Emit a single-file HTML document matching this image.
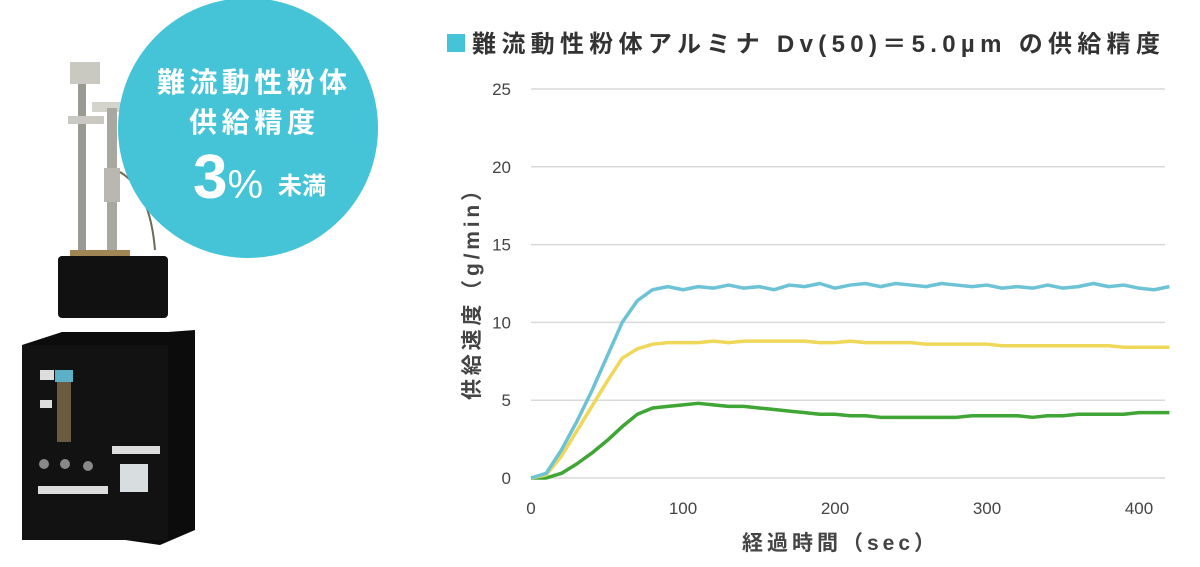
<!DOCTYPE html>
<html><head><meta charset="utf-8"><style>
html,body{margin:0;padding:0;background:#fff;width:1200px;height:567px;overflow:hidden}
svg text{font-family:"Liberation Sans","Noto Sans CJK JP",sans-serif}
</style></head><body>
<svg width="1200" height="567" xmlns="http://www.w3.org/2000/svg">
<g>
  <rect x="78" y="62" width="8" height="200" fill="#9a9a94"/>
  <rect x="70" y="62" width="30" height="22" fill="#c9c9c2"/>
  <rect x="68" y="116" width="36" height="8" fill="#c9c9c2"/>
  <rect x="92" y="102" width="42" height="10" fill="#d4d4cc"/>
  <rect x="107" y="108" width="10" height="150" fill="#a8a8a0"/>
  <rect x="104" y="168" width="16" height="34" fill="#b8b8b0"/>
  <path d="M120 172 Q150 190 155 250" stroke="#6a6a55" stroke-width="2" fill="none"/>
  <rect x="70" y="250" width="60" height="12" fill="#a08555"/>
  <rect x="58" y="256" width="110" height="62" rx="4" fill="#111"/>
  <polygon points="22,345 62,332 168,332 195,330 195,530 160,545 22,525" fill="#0c0c0c"/>
  <rect x="22" y="345" width="146" height="195" fill="#121212"/>
  <rect x="40" y="370" width="14" height="10" fill="#ddd"/>
  <rect x="55" y="370" width="18" height="12" fill="#5cb0c8"/>
  <rect x="57" y="382" width="14" height="60" fill="#6a5a40"/>
  <rect x="40" y="400" width="12" height="8" fill="#ddd"/>
  <rect x="112" y="446" width="48" height="8" fill="#ddd"/>
  <rect x="120" y="464" width="28" height="28" fill="#d8dde0"/>
  <rect x="38" y="486" width="70" height="8" fill="#ddd"/>
  <circle cx="44" cy="464" r="5" fill="#888"/><circle cx="65" cy="464" r="5" fill="#888"/><circle cx="88" cy="466" r="5" fill="#888"/>
</g>
<circle cx="248" cy="128" r="130" fill="#45c3d7"/>
<g fill="#fff" font-weight="bold" text-anchor="middle">
  <text x="252" y="92" font-size="28" textLength="190" lengthAdjust="spacing">難流動性粉体</text>
  <text x="252" y="132" font-size="28" textLength="126" lengthAdjust="spacing">供給精度</text>
  <text x="228" y="198" font-size="62">3<tspan font-size="40" font-weight="normal">%</tspan></text>
  <text x="302" y="194" font-size="24">未満</text>
</g>
<rect x="447" y="34" width="18" height="18" fill="#45c3d7"/>
<text x="472" y="52" font-size="24" font-weight="bold" fill="#333" textLength="688" lengthAdjust="spacing">難流動性粉体アルミナ Dv(50)＝5.0µm の供給精度</text>
<g id="grid"></g><g id="ticks" font-size="17" fill="#444"></g><g id="series"></g>
<text x="742" y="550" font-size="21" font-weight="bold" fill="#444" textLength="193" lengthAdjust="spacing">経過時間（sec）</text>
<text transform="translate(479,400) rotate(-90)" font-size="21" font-weight="bold" fill="#444" textLength="220" lengthAdjust="spacing">供給速度（g/min）</text>
</svg>
<script>
const yTicks=[0,5,10,15,20,25];
const xTicks=[0,100,200,300,400];
const times10=[0,10,20,30,40,50,60,70,80,90,100,110,120,130,140,150,160,170,180,190,200,210,220,230,240,250,260,270,280,290,300,310,320,330,340,350,360,370,380,390,400,410,420];
const cyanVals=[0,0.3,1.8,3.6,5.6,7.8,10.0,11.4,12.1,12.3,12.1,12.3,12.2,12.4,12.2,12.3,12.1,12.4,12.3,12.5,12.2,12.4,12.5,12.3,12.5,12.4,12.3,12.5,12.4,12.3,12.4,12.2,12.3,12.2,12.4,12.2,12.3,12.5,12.3,12.4,12.2,12.1,12.3];
const yellowVals=[0,0.2,1.4,3.0,4.6,6.2,7.7,8.3,8.6,8.7,8.7,8.7,8.8,8.7,8.8,8.8,8.8,8.8,8.8,8.7,8.7,8.8,8.7,8.7,8.7,8.7,8.6,8.6,8.6,8.6,8.6,8.5,8.5,8.5,8.5,8.5,8.5,8.5,8.5,8.4,8.4,8.4,8.4];
const greenVals=[0,0,0.3,0.9,1.6,2.4,3.3,4.1,4.5,4.6,4.7,4.8,4.7,4.6,4.6,4.5,4.4,4.3,4.2,4.1,4.1,4.0,4.0,3.9,3.9,3.9,3.9,3.9,3.9,4.0,4.0,4.0,4.0,3.9,4.0,4.0,4.1,4.1,4.1,4.1,4.2,4.2,4.2];
const xs=v=>531+v*1.52, ys=v=>478-v*15.56;
const NS='http://www.w3.org/2000/svg';
const grid=document.getElementById('grid'),ticks=document.getElementById('ticks'),ser=document.getElementById('series');
yTicks.forEach(t=>{
 const l=document.createElementNS(NS,'line');
 l.setAttribute('x1',531);l.setAttribute('x2',1165);l.setAttribute('y1',ys(t));l.setAttribute('y2',ys(t));
 l.setAttribute('stroke','#d9d9d9');l.setAttribute('stroke-width','1.5');
 
 
 grid.appendChild(l);
 const tx=document.createElementNS(NS,'text');
 tx.setAttribute('x',511);tx.setAttribute('y',ys(t)+6);tx.setAttribute('text-anchor','end');tx.textContent=t;
 
 
 ticks.appendChild(tx);
});
xTicks.forEach(t=>{
 const tx=document.createElementNS(NS,'text');
 tx.setAttribute('x',xs(t));tx.setAttribute('y',514);tx.setAttribute('text-anchor','middle');tx.textContent=t;
 
 
 ticks.appendChild(tx);
});
[[greenVals,'#3fa535','series-green'],[yellowVals,'#efd759','series-yellow'],[cyanVals,'#6cc3d5','series-cyan']].forEach(([vals,c,n])=>{
 const p=document.createElementNS(NS,'polyline');
 p.setAttribute('points',vals.map((v,i)=>xs(times10[i])+','+ys(v)).join(' '));
 p.setAttribute('fill','none');p.setAttribute('stroke',c);p.setAttribute('stroke-width','3.5');p.setAttribute('stroke-linejoin','round');
 
 
 ser.appendChild(p);
});
</script>
</body></html>
